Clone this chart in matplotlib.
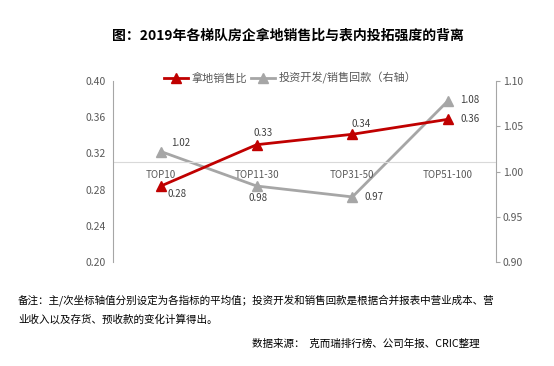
import numpy as np
import matplotlib
matplotlib.use('Agg')
import matplotlib.pyplot as plt

plt.rcParams['font.family'] = ['Noto Sans CJK SC', 'DejaVu Sans']

cats = ['TOP10', 'TOP11-30', 'TOP31-50', 'TOP51-100']
ratio = [0.284, 0.3295, 0.341, 0.3575]          # 拿地销售比 (left)
invest = [1.022, 0.984, 0.972, 1.078]           # 投资开发/销售回款 (right)
ratio_lab = ['0.28', '0.33', '0.34', '0.36']
invest_lab = ['1.02', '0.98', '0.97', '1.08']
left_ticks = [0.20, 0.24, 0.28, 0.32, 0.36, 0.40]
right_ticks = [0.90, 0.95, 1.00, 1.05, 1.10]

red = '#C00000'
grey = '#A6A6A6'
txt = '#595959'

fig = plt.figure(figsize=(5.54, 3.66), dpi=100)
ax = fig.add_axes([113/554, 1-262.3/366, (496-113)/554, 181.6/366])
ax2 = ax.twinx()

x = np.arange(len(cats))
ax.set_xlim(-0.5, len(cats)-0.5)
ax.set_ylim(0.20, 0.40)
ax2.set_ylim(0.90, 1.10)

l1, = ax.plot(x, ratio, color=red, lw=2.0, marker='^', ms=6.5, label='拿地销售比', zorder=5)
l2, = ax2.plot(x, invest, color=grey, lw=2.0, marker='^', ms=6.5, label='投资开发/销售回款（右轴）', zorder=4)
ax.set_zorder(ax2.get_zorder()+1)
ax.patch.set_visible(False)

# x axis crossing at the mean (0.31)
ax.axhline(0.31, color='#D9D9D9', lw=0.8, zorder=1)
for i, c in enumerate(cats):
    ax.text(i, 0.296, c, ha='center', va='center', fontsize=7, color=txt)

# data labels, offsets in pixels (dx, dy)
off_r = [(7, -8), (7, 12), (9, 10), (12, 0)]
for i, (v, s) in enumerate(zip(ratio, ratio_lab)):
    dx, dy = off_r[i]
    ax.annotate(s, (i, v), xytext=(dx*0.72, dy*0.72), textcoords='offset points',
                ha='left' if i in (0, 3) else 'center', va='center', fontsize=7, color='#404040')
off_g = [(10, 9), (1, -12), (12, 0), (12, 1)]
for i, (v, s) in enumerate(zip(invest, invest_lab)):
    dx, dy = off_g[i]
    ax2.annotate(s, (i, v), xytext=(dx*0.72, dy*0.72), textcoords='offset points',
                 ha='center' if i == 1 else 'left', va='center', fontsize=7, color='#404040')

ax.set_xticks([])
ax.set_yticks(left_ticks)
ax.set_yticklabels(['%.2f' % t for t in left_ticks], fontsize=7.5, color=txt)
ax.tick_params(axis='y', length=0, pad=5)
ax2.set_yticks(right_ticks)
ax2.set_yticklabels(['%.2f' % t for t in right_ticks], fontsize=7.5, color=txt)
ax2.tick_params(axis='y', length=3, color=grey, pad=2)

for a in (ax, ax2):
    a.spines['top'].set_visible(False)
    a.spines['bottom'].set_visible(False)
ax.spines['right'].set_visible(False)
ax2.spines['left'].set_visible(False)
ax.spines['left'].set_color(grey)
ax2.spines['right'].set_color(grey)

fig.legend(handles=[l1, l2], loc='center', bbox_to_anchor=(290/554, 1-78/366), ncol=2, frameon=False,
           fontsize=8, handlelength=2.2, columnspacing=0.3, handletextpad=0.3, labelcolor=txt)

fig.text(288/554, 1-36/366, '图：2019年各梯队房企拿地销售比与表内投拓强度的背离', ha='center', va='center',
         fontsize=10, fontweight='bold', color='black')
fig.text(18/554, 1-300/366, '备注：主/次坐标轴值分别设定为各指标的平均值；投资开发和销售回款是根据合并报表中营业成本、营',
         ha='left', va='center', fontsize=7.6, color='black')
fig.text(18/554, 1-319/366, '业收入以及存货、预收款的变化计算得出。', ha='left', va='center', fontsize=7.6, color='black')
fig.text(480/554, 1-344/366, '数据来源：  克而瑞排行榜、公司年报、CRIC整理', ha='right', va='center',
         fontsize=7.6, color='black')

fig.savefig('out.png', dpi=100)
